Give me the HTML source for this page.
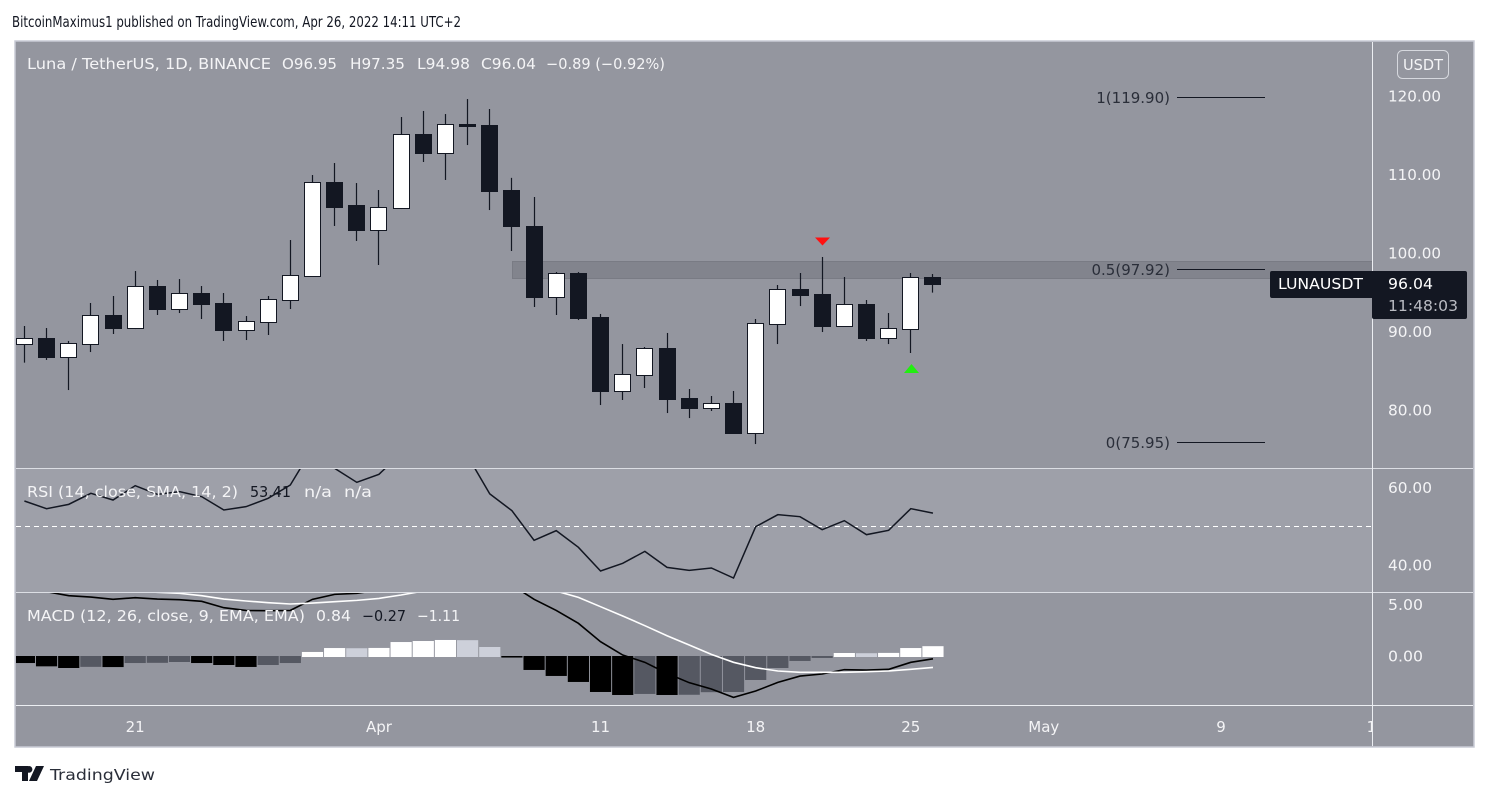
<!DOCTYPE html>
<html lang="en">
<head>
<meta charset="utf-8">
<title>LUNAUSDT chart</title>
<style>
html,body{margin:0;padding:0;background:#fff;width:1489px;height:800px;overflow:hidden}
svg{display:block}
text{font-family:"DejaVu Sans","Liberation Sans",sans-serif;font-size:15px}
</style>
</head>
<body>
<svg id="chart" xmlns="http://www.w3.org/2000/svg" width="1489" height="800" viewBox="0 0 1489 800">
  <defs>
    <clipPath id="main-clip"><rect x="16" y="42" width="1356" height="426"/></clipPath>
    <clipPath id="rsi-clip"><rect x="16" y="469" width="1356" height="123"/></clipPath>
    <clipPath id="macd-clip"><rect x="16" y="593" width="1356" height="112"/></clipPath>
    <clipPath id="time-clip"><rect x="16" y="706" width="1356" height="40"/></clipPath>
  </defs>
  <text x="12" y="27" fill="#131722" font-size="15" textLength="449" lengthAdjust="spacingAndGlyphs">BitcoinMaximus1 published on TradingView.com, Apr 26, 2022 14:11 UTC+2</text>

  <rect x="15" y="41" width="1459" height="706" fill="#94969f" stroke="#c9ccd6" stroke-width="1.5"/>
  <rect x="16" y="469" width="1356" height="123" fill="#9ea0a9"/>

  <g id="main-pane" clip-path="url(#main-clip)">
    <rect x="512.5" y="261.5" width="870" height="17" fill="#82848d" stroke="#797b84"/>
    <g id="fib-layer"></g>
    <g id="candle-layer"></g>
    <polygon points="815,237.5 830,237.5 822.5,245.5" fill="#ff1010"/>
    <polygon points="904,373 919,373 911.5,364" fill="#22ee11"/>
  </g>

  <g id="rsi-pane" clip-path="url(#rsi-clip)">
    <line x1="16" x2="1372" y1="526.5" y2="526.5" stroke="#fff" stroke-dasharray="5 4"/>
  </g>
  <g id="macd-pane" clip-path="url(#macd-clip)"></g>

  <g stroke="#dcdee4">
    <line x1="16" x2="1473" y1="468.5" y2="468.5"/>
    <line x1="16" x2="1473" y1="592.5" y2="592.5"/>
    <line x1="16" x2="1473" y1="705.5" y2="705.5" stroke="#eceef2"/>
    <line x1="1372.5" x2="1372.5" y1="42" y2="746" stroke="#eceef2"/>
  </g>

  <g id="price-axis"></g>
  <g id="time-axis" clip-path="url(#time-clip)"></g>

  <g fill="#f4f4f6">
    <text x="27" y="69" textLength="244" lengthAdjust="spacingAndGlyphs">Luna / TetherUS, 1D, BINANCE</text>
    <text x="282" y="69" textLength="55" lengthAdjust="spacingAndGlyphs">O96.95</text>
    <text x="350" y="69" textLength="55" lengthAdjust="spacingAndGlyphs">H97.35</text>
    <text x="417" y="69" textLength="53" lengthAdjust="spacingAndGlyphs">L94.98</text>
    <text x="481" y="69" textLength="55" lengthAdjust="spacingAndGlyphs">C96.04</text>
    <text x="546" y="69" textLength="119" lengthAdjust="spacingAndGlyphs">−0.89 (−0.92%)</text>
  </g>
  <g fill="#f4f4f6">
    <text x="27" y="497" textLength="211" lengthAdjust="spacingAndGlyphs">RSI (14, close, SMA, 14, 2)</text>
    <text x="250" y="497" fill="#131722" textLength="41" lengthAdjust="spacingAndGlyphs">53.41</text>
    <text x="304" y="497" textLength="28" lengthAdjust="spacingAndGlyphs">n/a</text>
    <text x="344" y="497" textLength="28" lengthAdjust="spacingAndGlyphs">n/a</text>
  </g>
  <g fill="#f4f4f6">
    <text x="27" y="621" textLength="278" lengthAdjust="spacingAndGlyphs">MACD (12, 26, close, 9, EMA, EMA)</text>
    <text x="316" y="621" textLength="35" lengthAdjust="spacingAndGlyphs">0.84</text>
    <text x="362" y="621" fill="#131722" textLength="44" lengthAdjust="spacingAndGlyphs">−0.27</text>
    <text x="417" y="621" textLength="43" lengthAdjust="spacingAndGlyphs">−1.11</text>
  </g>

  <g>
    <rect x="1397.5" y="50.5" width="51" height="28" rx="5" fill="none" stroke="#d6d8de"/>
    <text x="1403" y="70" fill="#f4f4f6" textLength="40" lengthAdjust="spacingAndGlyphs">USDT</text>
  </g>

  <g>
    <rect x="1270" y="271" width="106" height="27" rx="2" fill="#131722"/>
    <rect x="1372" y="271" width="95" height="48" rx="2" fill="#131722"/>
    <text x="1278" y="289" fill="#fff" textLength="85" lengthAdjust="spacingAndGlyphs">LUNAUSDT</text>
    <text x="1388" y="289" fill="#fff" textLength="45" lengthAdjust="spacingAndGlyphs">96.04</text>
    <text x="1388" y="311" fill="#b9bbc2" textLength="70" lengthAdjust="spacingAndGlyphs">11:48:03</text>
  </g>

  <g>
    <path d="M15 766h13v15h-6v-9h-7zM36 766h8l-7 15h-8zM29 766a3.4 3.4 0 1 1 0 6.8a3.4 3.4 0 1 1 0-6.8z" fill="#131722"/>
    <text x="50" y="780" fill="#2a2e39" font-size="18" textLength="105" lengthAdjust="spacingAndGlyphs">TradingView</text>
  </g>
</svg>

<script>
// ---- chart data ----
const firstDate = '2022-03-16';
const opens  = [88.48,89.2,86.82,88.48,92.13,90.51,95.82,92.93,94.93,93.66,90.26,91.28,94.08,97.14,109.07,106.14,103.0,105.8,115.19,112.81,116.46,116.33,108.05,103.47,94.46,97.44,91.87,82.45,84.53,87.92,81.55,80.32,80.92,77.14,91.02,95.44,94.8,90.73,93.53,89.2,90.39,96.95];
const highs  = [90.73,90.47,88.82,93.66,94.55,97.73,96.59,96.71,95.82,94.93,92.0,94.55,101.68,109.96,111.49,108.94,108.05,117.35,118.12,117.73,119.64,118.37,109.6,107.16,97.6,97.6,92.26,88.43,88.05,89.84,82.7,81.81,82.45,91.62,95.95,97.48,99.52,96.97,94.04,92.38,97.48,97.35];
const lows   = [86.06,86.4,82.57,87.41,89.71,90.34,92.13,92.38,91.62,88.82,88.94,89.58,92.89,96.97,103.47,101.56,98.5,105.63,111.62,109.33,113.78,105.5,100.28,93.15,92.13,91.49,80.66,81.3,82.83,79.64,79.0,79.9,76.97,75.69,88.43,93.27,89.96,90.6,88.82,88.43,87.29,94.98];
const closes = [89.16,86.82,88.52,92.08,90.47,95.78,92.89,94.89,93.53,90.22,91.32,94.12,97.18,109.03,105.89,102.96,105.84,115.14,112.76,116.42,116.2,107.92,103.47,94.42,97.44,91.75,82.45,84.57,87.88,81.43,80.28,80.87,77.1,91.07,95.4,94.68,90.73,93.49,89.2,90.43,96.93,96.04];
const rsiValues = [56.55,54.56,55.68,58.53,56.8,60.51,58.27,58.96,57.67,54.22,55.08,57.24,60.69,70.17,65.0,61.37,63.45,68.88,67.15,66.72,68.19,58.4,54.04,46.37,48.87,44.56,38.43,40.42,43.52,39.38,38.61,39.21,36.62,49.9,53.01,52.49,49.13,51.46,47.84,48.96,54.56,53.41];
const macdValues = [6.54,6.22,5.83,5.70,5.48,5.64,5.51,5.45,5.29,4.67,4.41,4.38,4.41,5.48,5.96,6.06,6.38,7.19,7.83,8.15,8.15,7.99,6.86,5.48,4.41,3.16,1.38,0.09,-0.61,-1.68,-2.58,-3.19,-4.0,-3.39,-2.55,-1.94,-1.74,-1.32,-1.36,-1.29,-0.61,-0.27];
const signalValues = [6.86,6.74,6.61,6.48,6.38,6.28,6.16,6.06,5.83,5.51,5.32,5.16,5.03,5.12,5.25,5.38,5.57,5.9,6.28,6.7,7.03,7.19,7.19,6.8,6.28,5.67,4.77,3.87,2.93,1.96,1.06,0.16,-0.61,-1.13,-1.45,-1.58,-1.58,-1.58,-1.52,-1.45,-1.29,-1.11];
const histValues = [-0.68,-1.0,-1.16,-1.05,-1.07,-0.68,-0.66,-0.58,-0.68,-0.87,-1.06,-0.87,-0.68,0.39,0.77,0.75,0.78,1.35,1.45,1.55,1.53,0.87,-0.15,-1.35,-1.93,-2.51,-3.48,-3.77,-3.67,-3.77,-3.75,-3.5,-3.48,-2.32,-1.16,-0.48,-0.19,0.29,0.27,0.30,0.77,0.95];
const priceTicks = [120,110,100,90,80];
const rsiTicks = [60,40];
const macdTicks = [5,0];
const dateTicks = ['2022-03-21','2022-04-01','2022-04-11','2022-04-18','2022-04-25','2022-05-01','2022-05-09','2022-05-16'];
const dateTickLabels = ['21','Apr','11','18','25','May','9','16'];
const fibLevels = [1,0.5,0];
const fibPrices = [119.90,97.92,75.95];

// ---- axis functions ----
const xAt = i => 24.4 + 22.16 * i;
const priceY = v => 97 + (119.9 - v) * 7.85;
const rsiY = v => 526.3 - (v - 50) * 3.865;
const macdY = v => 656 - v * 10.34;
const dateIndex = d => Math.round((Date.parse(d) - Date.parse(firstDate)) / 864e5);

const NS = 'http://www.w3.org/2000/svg';
function make(tag, parent, attrs) {
  const n = document.createElementNS(NS, tag);
  for (const k in attrs) n.setAttribute(k, attrs[k]);
  parent.appendChild(n);
  return n;
}
const snap = v => Math.round(v - 0.5) + 0.5;

// ---- candles ----
const candleLayer = document.getElementById('candle-layer');
opens.forEach((o, i) => {
  const c = closes[i];
  const up = c >= o;
  const x = snap(xAt(i));
  const wick = make('line', candleLayer, {x1: x, x2: x, y1: priceY(highs[i]), y2: priceY(lows[i]), stroke: '#131722', 'stroke-width': 1.2});
  
  
  const top = Math.round(priceY(Math.max(o, c))) + 0.5;
  const bottom = Math.round(priceY(Math.min(o, c))) + 0.5;
  const body = make('rect', candleLayer, {x: x - 8, y: top, width: 16, height: Math.max(bottom - top, 1), fill: up ? '#ffffff' : '#131722', stroke: '#131722'});
  
  
});

// ---- fibonacci levels ----
const fibLayer = document.getElementById('fib-layer');
fibLevels.forEach((lv, i) => {
  const y = snap(priceY(fibPrices[i]));
  const line = make('line', fibLayer, {x1: 1177, x2: 1265, y1: y, y2: y, stroke: '#131722'});
  
  
  const label = make('text', fibLayer, {x: 1170, y: y + 5.5, 'text-anchor': 'end', fill: '#2a2e39'});
  
  
  label.textContent = lv + '(' + fibPrices[i].toFixed(2) + ')';
});

// ---- RSI ----
const rsiPane = document.getElementById('rsi-pane');
const rsiLine = make('polyline', rsiPane, {points: rsiValues.map((v, i) => xAt(i) + ',' + rsiY(v)).join(' '), fill: 'none', stroke: '#131722', 'stroke-width': 1.5});



// ---- MACD ----
const macdPane = document.getElementById('macd-pane');
histValues.forEach((v, i) => {
  const prev = i ? histValues[i - 1] : 0;
  const fill = v >= 0 ? (v >= prev ? '#ffffff' : '#cdd0da') : (v < prev ? '#000000' : '#555862');
  const y0 = macdY(0);
  const yv = macdY(v);
  const bar = make('rect', macdPane, {x: xAt(i) - 10.6, y: v >= 0 ? yv : y0, width: 21.2, height: Math.max(Math.abs(yv - y0), 1) + (v >= 0 ? 1 : 0), fill: fill});
  
  
});
const macdLine = make('polyline', macdPane, {points: macdValues.map((v, i) => xAt(i) + ',' + macdY(v)).join(' '), fill: 'none', stroke: '#000000', 'stroke-width': 1.6});


const signalLine = make('polyline', macdPane, {points: signalValues.map((v, i) => xAt(i) + ',' + macdY(v)).join(' '), fill: 'none', stroke: '#ffffff', 'stroke-width': 1.6});



// ---- axes ----
const priceAxis = document.getElementById('price-axis');
function yTick(value, yFn, width) {
  const t = make('text', priceAxis, {x: 1388, y: yFn(value) + 5.5, fill: '#f4f4f6', textLength: width, lengthAdjust: 'spacingAndGlyphs'});
  
  
  t.textContent = value.toFixed(2);
}
priceTicks.forEach(v => yTick(v, priceY, v >= 100 ? 53 : 44));
rsiTicks.forEach(v => yTick(v, rsiY, 44));
macdTicks.forEach(v => yTick(v, macdY, 35));

const timeAxis = document.getElementById('time-axis');
dateTicks.forEach((d, i) => {
  const t = make('text', timeAxis, {x: xAt(dateIndex(d)), y: 732, 'text-anchor': 'middle', fill: '#f4f4f6', 'font-size': 15});
  
  
  t.textContent = dateTickLabels[i];
});
</script>
</body>
</html>
